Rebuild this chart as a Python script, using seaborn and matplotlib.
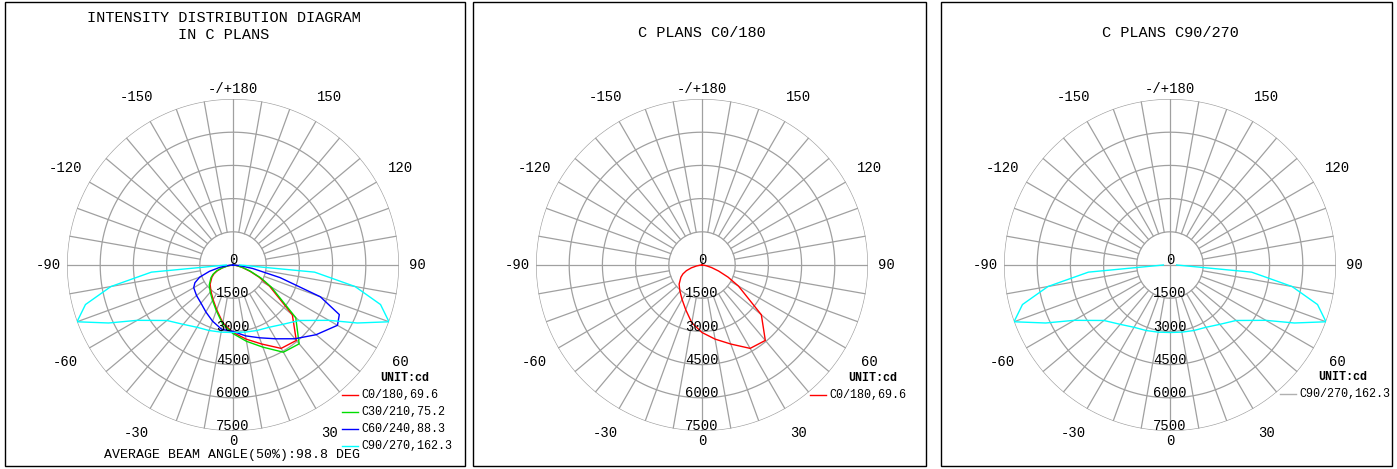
import numpy as np
import pandas as pd
import matplotlib
matplotlib.use("Agg")
import matplotlib.pyplot as plt
import seaborn as sns
from matplotlib.patches import Rectangle

# --- DATA (cd) ---
gamma = [0, 10, 20, 30, 40, 50, 60, 65, 70, 75, 80, 85, 90]
c0   = [3050, 3400, 3800, 4350, 4450, 3500, 1900, 1300, 800, 450, 200, 80, 0]
c180 = [3050, 2650, 2150, 1800, 1550, 1350, 1100, 950, 750, 500, 250, 80, 0]
c30  = [3100, 3500, 3950, 4550, 4650, 3700, 2000, 1400, 850, 480, 220, 80, 0]
c210 = [3100, 2700, 2200, 1850, 1600, 1400, 1150, 1000, 800, 520, 260, 80, 0]
c60  = [3050, 3250, 3500, 3850, 4350, 4900, 5450, 5300, 4200, 2200, 900, 300, 0]
c240 = [3000, 2950, 2700, 2450, 2250, 2150, 2050, 1900, 1600, 1100, 600, 200, 0]
c90  = [3050, 3080, 3150, 3250, 3500, 3900, 5000, 6200, 7500, 6900, 5600, 3700, 300]
c270 = c90

series = [
    ("C0/180,69.6", c0, c180, "#ff0000"),
    ("C30/210,75.2", c30, c210, "#00dd00"),
    ("C60/240,88.3", c60, c240, "#0000ff"),
    ("C90/270,162.3", c90, c270, "#00ffff"),
]
ring_vals = [0, 1500, 3000, 4500, 6000, 7500]
angle_labels = {180: "-/+180", 150: "150", -150: "-150", 120: "120", -120: "-120",
                90: "90", -90: "-90", 60: "60", -60: "-60", 30: "30", -30: "-30", 0: "0"}

FONT = "Liberation Mono"
W, H = 1397, 469
fig = plt.figure(figsize=(W / 100, H / 100), dpi=100)
fig.patch.set_facecolor("white")

def curve_df(pos, neg):
    th = [-g for g in gamma[::-1]] + gamma[1:]
    r = neg[::-1] + pos[1:]
    return pd.DataFrame({"theta": np.radians(th), "r": r})

def polar_panel(cx, cy, rad, which):
    ax = fig.add_axes([(cx - rad) / W, 1 - (cy + rad) / H, 2 * rad / W, 2 * rad / H],
                      projection="polar")
    ax.set_theta_zero_location("S")
    ax.set_theta_direction(1)
    ax.set_ylim(0, 7500)
    ax.grid(False)
    ax.spines["polar"].set_visible(False)
    ax.set_xticks([])
    ax.set_yticks([])
    ax.patch.set_alpha(0)
    gc = "#a0a0a0"
    full = np.linspace(0, 2 * np.pi, 361)
    for v in ring_vals[1:]:
        ax.plot(full, [v] * len(full), color=gc, lw=0.9, zorder=1)
    for a in range(0, 360, 10):
        t = np.radians(a)
        r0 = 0 if a % 90 == 0 else 1500
        ax.plot([t, t], [r0, 7500], color=gc, lw=0.9, zorder=1)
    for a, s in angle_labels.items():
        if abs(a) in (0, 180):
            rr = 7950
        elif abs(a) == 90:
            rr = 8350
        else:
            rr = 8750
        ax.text(np.radians(a), rr, s, family=FONT, fontsize=10,
                ha="center", va="center", clip_on=False)
    for v in ring_vals:
        ax.text(0, v + 100, str(v), family=FONT, fontsize=10, ha="center",
                va="bottom", zorder=5)
    for name, pos, neg, col in series:
        if which is not None and name not in which:
            continue
        d = curve_df(pos, neg)
        sns.lineplot(data=d, x="theta", y="r", sort=False, estimator=None,
                     color=col, lw=1.0, ax=ax, zorder=3)
    ax.set_xlabel("")
    ax.set_ylabel("")
    return ax

def legend(x, y, items):
    fig.text(x / W, 1 - y / H, "UNIT:cd", family=FONT, fontsize=8.5,
             weight="bold", ha="left", va="center")
    for i, (name, col) in enumerate(items):
        yy = y + 17 * (i + 1)
        fig.add_artist(plt.Line2D([(x - 38) / W, (x - 22) / W], [1 - yy / H] * 2,
                                  color=col, lw=1))
        fig.text((x - 19) / W, 1 - yy / H, name, family=FONT, fontsize=8.5,
                 ha="left", va="center")

# panel frames
for x0, x1 in [(5, 465), (473, 926), (941, 1392)]:
    fig.add_artist(Rectangle((x0 / W, 1 - 466 / H), (x1 - x0) / W, 464 / H,
                             transform=fig.transFigure, fill=False,
                             edgecolor="black", lw=1))

polar_panel(233, 265, 166, None)
polar_panel(702, 265, 166, ["C0/180,69.6"])
polar_panel(1170, 265, 166, ["C90/270,162.3"])

fig.text(224 / W, 1 - 18 / H, "INTENSITY DISTRIBUTION DIAGRAM", family=FONT,
         fontsize=11, ha="center", va="center")
fig.text(224 / W, 1 - 35 / H, "IN C PLANS", family=FONT, fontsize=11,
         ha="center", va="center")
fig.text(702 / W, 1 - 33 / H, "C PLANS C0/180", family=FONT, fontsize=11,
         ha="center", va="center")
fig.text(1170 / W, 1 - 33 / H, "C PLANS C90/270", family=FONT, fontsize=11,
         ha="center", va="center")
fig.text(232 / W, 1 - 455 / H, "AVERAGE BEAM ANGLE(50%):98.8 DEG", family=FONT,
         fontsize=9.5, ha="center", va="center")

legend(380, 378, [(s[0], s[3]) for s in series])
legend(848, 378, [("C0/180,69.6", "#ff0000")])
legend(1318, 377, [("C90/270,162.3", "#b0b0b0")])

fig.savefig("out.png", dpi=100)
